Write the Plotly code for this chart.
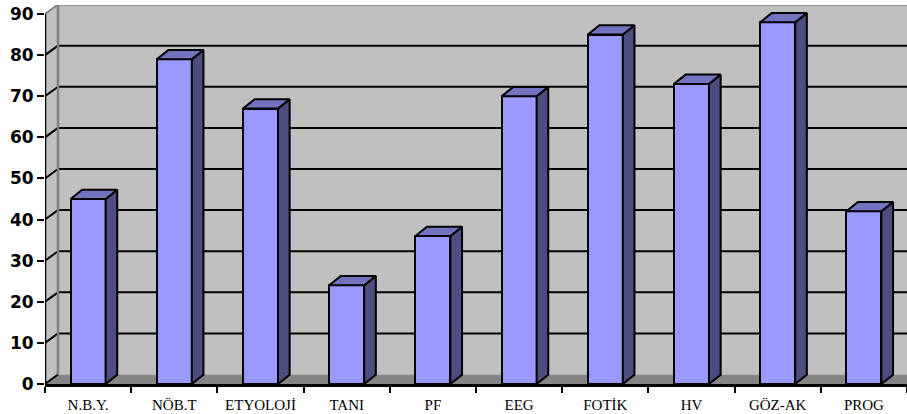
import plotly.graph_objects as go

# ---- data ----
categories = ["N.B.Y.", "NÖB.T", "ETYOLOJİ", "TANI", "PF", "EEG", "FOTİK", "HV", "GÖZ-AK", "PROG"]
values = [45, 79, 67, 24, 36, 70, 85, 73, 88, 42]
y_ticks = [0, 10, 20, 30, 40, 50, 60, 70, 80, 90]

# ---- geometry (in data units) ----
N = len(categories)
X0, X1 = -0.5, N - 0.5
YMAX = 90
YTOP = 92.19
DX, DY = 0.151, 2.3          # wall depth offset
BW = 0.406                   # bar width
BDX, BDY = 0.135, 2.26       # bar depth offset

FRONT = "#9999FF"
SIDE = "#4D4D80"
TOP = "#7373BF"
WALL = "#C0C0C0"
EDGE = "#808080"

fig = go.Figure()

# front faces of the bars
fig.add_trace(go.Bar(
    x=list(range(N)), y=values, width=BW,
    marker=dict(color=FRONT, line=dict(color="black", width=2)),
    hoverinfo="skip", showlegend=False,
))

# side and top faces computed from values
for i, v in enumerate(values):
    L, R = i - BW / 2, i + BW / 2
    fig.add_trace(go.Scatter(
        x=[R, R + BDX, R + BDX, R, R], y=[0, BDY, v + BDY, v, 0],
        mode="lines", fill="toself", fillcolor=SIDE,
        line=dict(color="black", width=2), hoverinfo="skip", showlegend=False,
    ))
    fig.add_trace(go.Scatter(
        x=[L, R, R + BDX, L + BDX, L], y=[v, v, v + BDY, v + BDY, v],
        mode="lines", fill="toself", fillcolor=TOP,
        line=dict(color="black", width=2), hoverinfo="skip", showlegend=False,
    ))

shapes = []
# back wall
shapes.append(dict(type="rect", xref="x", yref="y", x0=X0 + DX, x1=X1 + 1, y0=DY, y1=YMAX + DY,
                   fillcolor=WALL, line=dict(width=0), layer="below"))
# side wall
shapes.append(dict(type="path", xref="x", yref="y",
                   path=f"M {X0},0 L {X0},{YMAX} L {X0+DX},{YMAX+DY} L {X0+DX},{DY} Z",
                   fillcolor=WALL, line=dict(width=0), layer="below"))
# floor
shapes.append(dict(type="path", xref="x", yref="y",
                   path=f"M {X0},0 L {X1+1},0 L {X1+1},{DY} L {X0+DX},{DY} Z",
                   fillcolor="#858585", line=dict(width=0), layer="below"))
# gridlines on back wall + diagonals on side wall
for t in y_ticks:
    if 0 < t < YMAX:
        shapes.append(dict(type="line", xref="x", yref="y", x0=X0 + DX, x1=X1 + 1, y0=t + DY, y1=t + DY,
                           line=dict(color="black", width=2), layer="below"))
    col = EDGE if t == YMAX else "black"
    shapes.append(dict(type="line", xref="x", yref="y", x0=X0, x1=X0 + DX, y0=t, y1=t + DY,
                       line=dict(color=col, width=2), layer="below"))
# wall borders
shapes.append(dict(type="line", xref="x", yref="y", x0=X0 + DX, x1=X1 + 1, y0=YMAX + DY, y1=YMAX + DY,
                   line=dict(color=EDGE, width=2.5), layer="below"))
shapes.append(dict(type="line", xref="x", yref="y", x0=X0 + DX, x1=X0 + DX, y0=DY, y1=YMAX + DY,
                   line=dict(color=EDGE, width=2.5), layer="below"))
# front value axis line
shapes.append(dict(type="line", xref="x", yref="y", x0=X0, x1=X0, y0=0, y1=YMAX,
                   line=dict(color="black", width=2.5), layer="above"))

fig.update_layout(
    width=907, height=414,
    margin=dict(l=45, r=0, t=5, b=30),
    paper_bgcolor="white", plot_bgcolor="white",
    shapes=shapes,
    bargap=0,
    xaxis=dict(
        range=[X0, X1], tickvals=list(range(N)), ticktext=categories,
        ticks="", showgrid=False, zeroline=False,
        showline=True, linecolor="black", linewidth=2.5,
        ticklabelstandoff=5,
        tickfont=dict(family="Liberation Serif", size=15, color="black"),
        minor=dict(tickvals=[k - 0.5 for k in range(N + 1)], ticks="outside",
                   ticklen=6, tickwidth=2, tickcolor="black", showgrid=False),
    ),
    yaxis=dict(
        range=[0, YTOP], tickvals=y_ticks, ticktext=[str(t) for t in y_ticks],
        ticks="outside", ticklen=7, tickwidth=2, tickcolor="black",
        showgrid=False, zeroline=False, showline=False,
        tickfont=dict(family="DejaVu Sans", size=17, color="black", weight="bold"),
    ),
)

fig.write_html("out.html")
